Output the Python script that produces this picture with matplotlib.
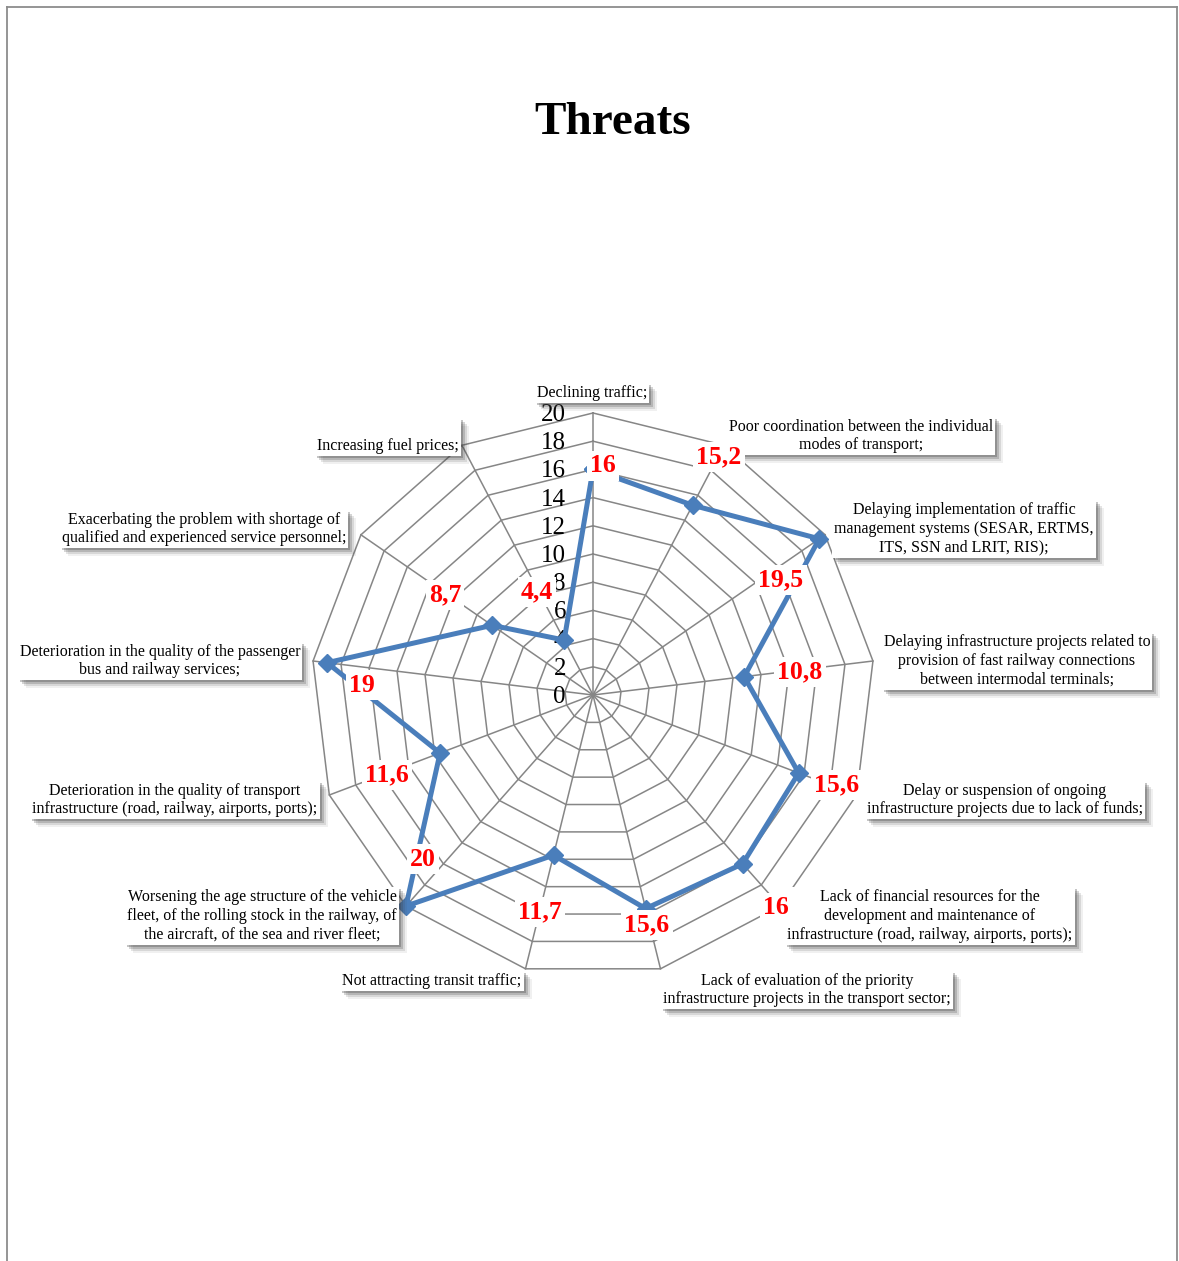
import numpy as np
import matplotlib
matplotlib.use("Agg")
import matplotlib.pyplot as plt
from matplotlib.lines import Line2D
from matplotlib.patches import Rectangle

# ---------------- data ----------------
categories = [
    "Declining traffic;",
    "Poor coordination between the individual\nmodes of transport;",
    "Delaying implementation of traffic\nmanagement systems (SESAR, ERTMS,\nITS, SSN and LRIT, RIS);",
    "Delaying infrastructure projects related to\nprovision of fast railway connections\nbetween intermodal terminals;",
    "Delay or suspension of ongoing\ninfrastructure projects due to lack of funds;",
    "Lack of financial resources for the\ndevelopment and maintenance of\ninfrastructure (road, railway, airports, ports);",
    "Lack of evaluation of the priority\ninfrastructure projects in the transport sector;",
    "Not attracting transit traffic;",
    "Worsening the age structure of the vehicle\nfleet, of the rolling stock in the railway, of\nthe aircraft, of the sea and river fleet;",
    "Deterioration in the quality of transport\ninfrastructure (road, railway, airports, ports);",
    "Deterioration in the quality of the passenger\nbus and railway services;",
    "Exacerbating the problem with shortage of\nqualified and experienced service personnel;",
    "\nIncreasing fuel prices;",
]
values = [16, 15.2, 19.5, 10.8, 15.6, 16, 15.6, 11.7, 20, 11.6, 19, 8.7, 4.4]
value_labels = ["16", "15,2", "19,5", "10,8", "15,6", "16", "15,6",
                "11,7", "20", "11,6", "19", "8,7", "4,4"]
r_ticks = [0, 2, 4, 6, 8, 10, 12, 14, 16, 18, 20]
title = "Threats"

# ---------------- layout (pixels) ----------------
W, H = 1179, 1261
cx, cy, R = 593, 695, 282
cat_label_px = [(592, 393), (861, 436), (964, 529), (1017, 661), (1005, 800),
                (930, 916), (807, 990), (432, 981), (262, 916), (175, 800),
                (160, 661), (204, 529), (388, 437)]
val_label_px = [(603, 466), (719, 457), (781, 580), (800, 672), (837, 785),
                (776, 908), (647, 925), (540, 912), (423, 859), (387, 775),
                (362, 685), (445, 595), (537, 592)]

SERIF = ["Liberation Serif", "DejaVu Serif"]
GRID = "#868686"
LINE = "#4A7EBB"

fig = plt.figure(figsize=(W / 100, H / 100), dpi=100)
fig.patch.set_facecolor("white")

def fx(x):
    return x / W

def fy(y):
    return 1 - y / H

# page frame
for xs, ys in [([7, 1177], [7, 7]), ([7, 7], [7, H + 5]), ([1177, 1177], [7, H + 5])]:
    fig.add_artist(Line2D([fx(x) for x in xs], [fy(y) for y in ys],
                          color="#8c8c8c", lw=1.3, transform=fig.transFigure))

ax = fig.add_axes([(cx - R) / W, (H - cy - R) / H, 2 * R / W, 2 * R / H],
                  projection="polar")
ax.set_theta_zero_location("N")
ax.set_theta_direction(-1)
ax.set_ylim(0, 20)
ax.grid(False)
ax.spines["polar"].set_visible(False)
ax.set_xticks([])
ax.set_yticks([])
ax.patch.set_visible(False)

n = len(categories)
theta = np.arange(n) * 2 * np.pi / n
theta_c = np.append(theta, theta[0])

for t in r_ticks[1:]:
    ax.plot(theta_c, [t] * (n + 1), color=GRID, lw=1.1, zorder=1, clip_on=False)
for th in theta:
    ax.plot([th, th], [0, r_ticks[-1]], color=GRID, lw=1.1, zorder=1, clip_on=False)

ax.plot(theta_c, np.append(values, values[0]), color=LINE, lw=3.6,
        marker="D", ms=9, zorder=3, clip_on=False)

for t in r_ticks:
    ax.annotate(str(t), xy=(0, t), xytext=(-27, -2), textcoords="offset pixels",
                ha="right", va="center", fontsize=18, family=SERIF,
                color="black", zorder=2, annotation_clip=False)

# value labels
for lab, (x, y) in zip(value_labels, val_label_px):
    fig.text(fx(x), fy(y), lab, ha="center", va="center", fontsize=18.5,
             fontweight="bold", color="#FF0000", family=SERIF, zorder=10,
             bbox=dict(boxstyle="square,pad=0.12", fc="white", ec="none"))

# category labels (white boxes), shadows added after layout
CAT_FS = 11.5
cat_texts = []
for lab, (x, y) in zip(categories, cat_label_px):
    t = fig.text(fx(x), fy(y), lab, ha="center", va="center", fontsize=CAT_FS,
                 family=SERIF, color="black", zorder=9, linespacing=1.22,
                 multialignment="center",
                 bbox=dict(boxstyle="square,pad=0.12", fc="white", ec="none"))
    cat_texts.append(t)

fig.text(fx(613), fy(123), title, ha="center", va="center", fontsize=34,
         fontweight="bold", family=SERIF, color="black")

fig.canvas.draw()
renderer = fig.canvas.get_renderer()
for t in cat_texts:
    bb = t.get_bbox_patch().get_window_extent(renderer)
    for off, a in [(8, 0.08), (6, 0.14), (4, 0.22), (2, 0.30)]:
        fig.add_artist(Rectangle(((bb.x0 + off) / W, (bb.y0 - off) / H),
                                 bb.width / W, bb.height / H,
                                 transform=fig.transFigure, fc="#404040",
                                 ec="none", alpha=a, zorder=8))

fig.savefig("out.png", dpi=100, facecolor="white")
